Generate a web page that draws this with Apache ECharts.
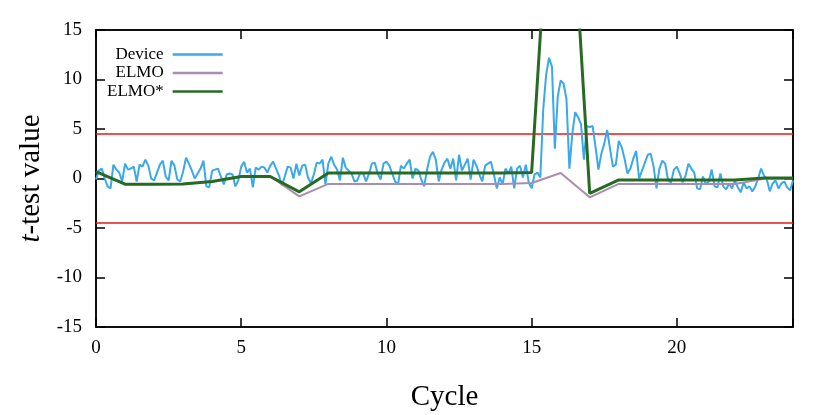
<!DOCTYPE html>
<html>
<head>
<meta charset="utf-8">
<script src="https://cdn.jsdelivr.net/npm/echarts@6/dist/echarts.min.js"></script>
<style>html,body{margin:0;padding:0;background:#fff}#c{width:830px;height:415px}</style>
</head>
<body>
<div id="c"></div>
<script>
// Tick labels / axes
const xTicks = [0, 5, 10, 15, 20];
const yTicks = [-15, -10, -5, 0, 5, 10, 15];
const threshold = 4.5;

// ELMO and ELMO* : one value per cycle (0..24)
const cycles = [0,1,2,3,4,5,6,7,8,9,10,11,12,13,14,15,16,17,18,19,20,21,22,23,24];
const elmo = [0.7,-0.58,-0.58,-0.55,-0.3,0.2,0.2,-1.8,-0.55,-0.55,-0.55,-0.55,-0.55,-0.55,-0.55,-0.45,0.55,-1.9,-0.55,-0.55,-0.55,-0.55,-0.55,-0.02,0.0];
const elmoStar = [0.7,-0.58,-0.58,-0.55,-0.3,0.2,0.2,-1.35,0.55,0.55,0.55,0.55,0.55,0.55,0.55,0.6,47,-1.5,-0.15,-0.15,-0.15,-0.15,-0.15,0.05,0.05];

// Device : 10 samples per cycle
const deviceStep = 0.1;
const device = [
-0.1,0.8,1.0,0.0,-0.8,-1.0,1.4,0.9,0.6,-0.3,
1.5,0.9,1.0,1.2,-0.3,1.4,1.2,1.9,1.3,0.0,
-0.2,0.6,1.4,1.8,0.2,-0.2,1.8,1.3,-0.1,-0.3,
0.7,2.1,1.5,0.8,0.0,0.5,1.0,1.8,-0.8,-0.9,
0.8,0.9,1.0,0.2,-0.6,0.4,0.5,0.4,-0.8,-0.2,
1.2,1.7,0.6,1.0,-0.9,1.1,0.9,1.2,1.1,0.6,
1.3,1.7,1.0,0.3,-0.7,0.2,1.2,1.1,0.0,1.5,
0.3,1.3,1.4,0.1,-0.5,0.4,1.6,1.5,1.9,-0.6,
1.5,2.2,1.4,0.9,-0.2,2.1,1.1,0.8,0.5,-0.3,
-0.2,0.6,0.5,-0.3,0.5,1.5,1.6,0.5,-0.1,1.5,
1.7,1.3,0.5,-0.3,-0.6,1.3,1.0,1.5,1.9,0.0,
1.0,0.8,-0.1,-0.8,0.9,2.2,2.7,1.9,-0.3,0.9,
1.6,2.0,1.0,2.0,-0.2,2.4,0.8,1.4,2.0,-0.1,
1.9,1.3,0.4,-0.3,1.3,1.5,1.7,0.4,-1.0,0.1,
-0.6,1.0,0.5,1.2,-1.0,1.0,1.3,0.1,1.4,-0.4,
-1.0,0.4,0.6,0.1,7.0,10.5,12.2,11.3,3.0,8.3,
9.9,9.6,8.0,1.0,4.5,6.7,6.2,5.5,1.9,5.3,
5.2,5.3,3.2,0.9,2.5,3.5,4.9,3.0,1.2,1.4,
3.8,3.2,2.0,0.5,1.0,2.0,2.8,0.0,0.8,1.6,
2.4,2.5,1.2,-1.0,1.0,1.8,1.5,-0.2,-0.4,0.9,
1.2,0.5,-0.4,0.3,1.5,1.0,0.6,-1.0,-1.1,0.2,
-0.6,-0.3,0.9,-0.8,-0.9,0.5,-0.8,-1.1,-0.5,-1.0,
-0.2,-0.9,-1.4,-0.4,-1.0,-0.8,-1.3,-0.8,0.0,1.0,
0.3,-0.1,-1.3,-0.5,-0.2,-1.0,-0.5,-0.3,-0.9,-1.2,
-0.2
];

const FONT = '"Liberation Serif", "DejaVu Serif", serif';
const chart = echarts.init(document.getElementById('c'), null, {renderer: 'canvas'});

const devData = device.map((v, i) => [+(i * deviceStep).toFixed(2), v]);
const elmoData = cycles.map((c, i) => [c, elmo[i]]);
const starData = cycles.map((c, i) => [c, elmoStar[i]]);

const axisLine = {show: true, onZero: false, lineStyle: {color: '#000', width: 1.5}};
const tick = {show: true, inside: true, length: 9, lineStyle: {color: '#000', width: 1.5}};

const C_DEV = '#3aa8ea', C_ELMO = '#a98db0', C_STAR = '#276b22';

chart.setOption({
  animation: false,
  backgroundColor: '#fff',
  grid: {left: 96, right: 37, top: 30, bottom: 88, outerBoundsMode: 'none', containLabel: false,
    show: true, borderColor: '#000', borderWidth: 1.5, backgroundColor: 'transparent'},
  legend: {
    data: [
      {name: 'Device', icon: 'rect', itemStyle: {color: C_DEV}},
      {name: 'ELMO', icon: 'rect', itemStyle: {color: C_ELMO}},
      {name: 'ELMO*', icon: 'rect', itemStyle: {color: C_STAR}}
    ],
    orient: 'vertical', left: 102, top: 41, align: 'right',
    itemWidth: 50, itemHeight: 2.5, itemGap: 1.5,
    formatter: n => '{n|' + n + '}',
    textStyle: {fontFamily: FONT, fontSize: 17, color: '#000',
      rich: {n: {width: 66, height: 18, align: 'right', fontFamily: FONT, fontSize: 17, color: '#000', padding: [0, 4, 0, 0]}}},
    selectedMode: false
  },
  xAxis: [{
    type: 'value', min: 0, max: 24, interval: 5, position: 'bottom',
    axisLine, axisTick: tick, splitLine: {show: false},
    axisLabel: {fontFamily: FONT, fontSize: 19, color: '#000', margin: 12,
      customValues: xTicks, formatter: v => String(v)},
    name: 'Cycle', nameLocation: 'middle', nameGap: 56,
    nameTextStyle: {fontFamily: FONT, fontSize: 29, color: '#000'}
  }, {
    type: 'value', min: 0, max: 24, interval: 5, position: 'top',
    axisLine, axisTick: tick, axisLabel: {show: false}, splitLine: {show: false}
  }],
  yAxis: [{
    type: 'value', min: -15, max: 15, interval: 5, position: 'left',
    axisLine, axisTick: tick, splitLine: {show: false},
    axisLabel: {fontFamily: FONT, fontSize: 19, color: '#000', margin: 14,
      formatter: v => String(v)},
    name: '{i|t}-test value', nameLocation: 'middle', nameGap: 50,
    nameTextStyle: {fontFamily: FONT, fontSize: 29, color: '#000',
      rich: {i: {fontFamily: FONT, fontSize: 29, fontStyle: 'italic', color: '#000'}}}
  }, {
    type: 'value', min: -15, max: 15, interval: 5, position: 'right',
    axisLine, axisTick: tick, axisLabel: {show: false}, splitLine: {show: false}
  }],
  series: [
    {name: 'upper', type: 'line', data: [[0, threshold], [24, threshold]], symbol: 'none', silent: true,
      lineStyle: {color: '#e8161b', width: 1.6}, z: 1},
    {name: 'lower', type: 'line', data: [[0, -threshold], [24, -threshold]], symbol: 'none', silent: true,
      lineStyle: {color: '#e8161b', width: 1.6}, z: 1},
    {name: 'Device', type: 'line', data: devData, symbol: 'none', showSymbol: false,
      lineStyle: {color: C_DEV, width: 2}, itemStyle: {color: C_DEV}, z: 2},
    {name: 'ELMO', type: 'line', data: elmoData, symbol: 'none', showSymbol: false,
      lineStyle: {color: C_ELMO, width: 2}, itemStyle: {color: C_ELMO}, z: 3},
    {name: 'ELMO*', type: 'line', data: starData, symbol: 'none', showSymbol: false, clip: true,
      lineStyle: {color: C_STAR, width: 3}, itemStyle: {color: C_STAR}, z: 4}
  ]
});
</script>
</body>
</html>
